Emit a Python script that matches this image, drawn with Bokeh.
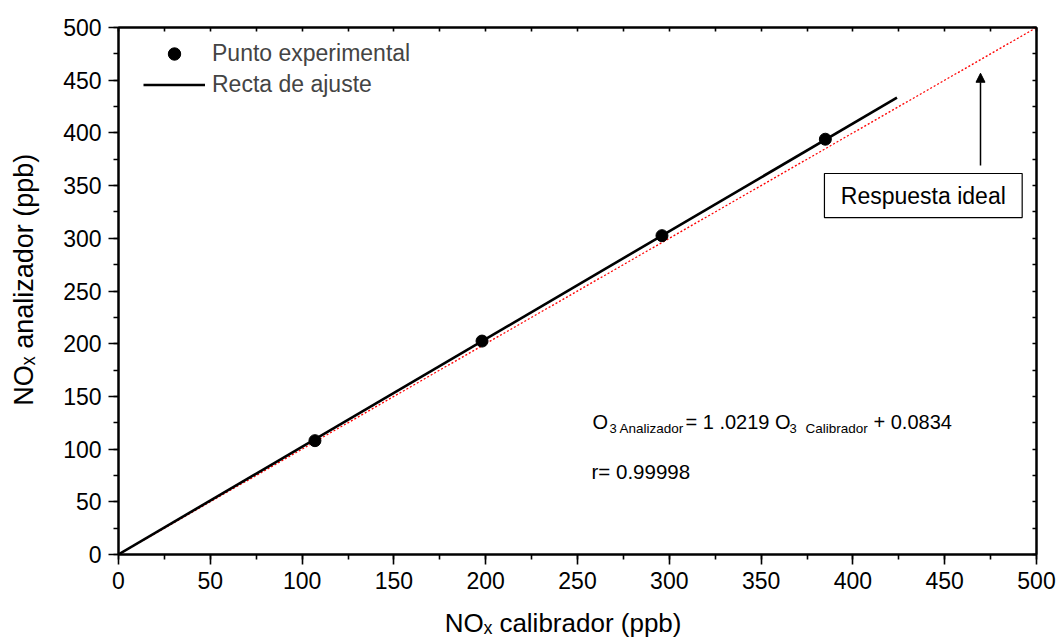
from bokeh.plotting import figure
from bokeh.models import (Range1d, LinearAxis, SingleIntervalTicker, FixedTicker, Label, Legend,
                          LegendItem, Arrow, NormalHead, BoxAnnotation)
from bokeh.embed import file_html
from bokeh.resources import INLINE

# ---- data ----
calib_ppb = [107, 198, 296, 385]          # NOx calibrador (ppb)
analyzer_ppb = [108, 202.5, 302.5, 394]   # NOx analizador (ppb)
fit_x = [0, 424]                          # recta de ajuste
fit_y = [0.1, 433.4]
ideal_x = [0, 500]                        # respuesta ideal
ideal_y = [0, 500]
frame_ticks = [0, 25, 50, 75, 100, 125, 150, 175, 200, 225, 250, 275, 300, 325, 350,
               375, 400, 425, 450, 475, 500]
arrow_x = 469.5
arrow_y = [369, 456.6]
box_lr = [384.5, 492.2]
box_bt = [319.7, 361.5]

FONT = "Liberation Sans"
NB = "\u00a0"

p = figure(width=1056, height=641, output_backend="svg", toolbar_location=None,
           x_range=Range1d(0, 500), y_range=Range1d(0, 500),
           x_axis_location=None, y_axis_location=None,
           min_border_left=118, min_border_right=20, min_border_top=27, min_border_bottom=87)
p.background_fill_color = "white"
p.border_fill_color = "white"
p.xgrid.visible = False
p.ygrid.visible = False
p.outline_line_color = "black"
p.outline_line_width = 2


def main_axis(title, size, standoff):
    ax = LinearAxis(ticker=SingleIntervalTicker(interval=50, num_minor_ticks=2))
    ax.axis_line_width = 2
    ax.major_tick_line_width = 1.6
    ax.minor_tick_line_width = 1.6
    ax.major_tick_out = 10
    ax.major_tick_in = 0
    ax.minor_tick_out = 5
    ax.minor_tick_in = 0
    ax.major_label_text_font = FONT
    ax.major_label_text_font_size = "23px"
    ax.major_label_text_color = "black"
    ax.major_label_standoff = 7
    ax.axis_label = title
    ax.axis_label_text_font = FONT
    ax.axis_label_text_font_size = size
    ax.axis_label_text_font_style = "normal"
    ax.axis_label_text_color = "black"
    ax.axis_label_standoff = standoff
    return ax


def frame_axis():
    ax = LinearAxis(ticker=FixedTicker(ticks=[], minor_ticks=frame_ticks))
    ax.axis_line_width = 2
    ax.minor_tick_line_width = 1.6
    ax.major_tick_out = 0
    ax.major_tick_in = 0
    ax.minor_tick_out = 0
    ax.minor_tick_in = 4
    ax.major_label_standoff = 0
    return ax


p.add_layout(main_axis("NOₓ calibrador (ppb)" + NB * 4, "26px", 16), "below")
p.add_layout(main_axis(NB * 3 + "NOₓ analizador (ppb)", "27px", 21), "left")
p.add_layout(frame_axis(), "above")
p.add_layout(frame_axis(), "right")

# ideal response (red dotted)
p.line(ideal_x, ideal_y, line_color="red", line_width=1.3, line_dash="2 2")
# fitted line
fit_r = p.line(fit_x, fit_y, line_color="black", line_width=2.6)
# experimental points
pts_r = p.scatter(calib_ppb, analyzer_ppb, size=12, marker="circle",
                  fill_color="black", line_color="black")

legend = Legend(items=[LegendItem(label="Punto experimental", renderers=[pts_r]),
                       LegendItem(label="Recta de ajuste", renderers=[fit_r])],
                location=(25, 454), padding=0, spacing=0, margin=0,
                glyph_width=62, glyph_height=31, label_height=31, label_standoff=7,
                label_text_font=FONT, label_text_font_size="23px",
                border_line_color=None, background_fill_alpha=0)
p.add_layout(legend, "center")

# "Respuesta ideal" box + arrow
p.add_layout(BoxAnnotation(left=box_lr[0], right=box_lr[1], bottom=box_bt[0], top=box_bt[1],
                           fill_color="white", fill_alpha=1, line_color="black",
                           line_alpha=1, line_width=1.2))
p.add_layout(Label(x=(box_lr[0] + box_lr[1]) / 2, y=(box_bt[0] + box_bt[1]) / 2,
                   text="Respuesta ideal", text_align="center", text_baseline="middle",
                   text_font=FONT, text_font_size="23px", text_color="black"))
p.add_layout(Arrow(end=NormalHead(size=9, fill_color="black", line_color="black"),
                   x_start=arrow_x, y_start=arrow_y[0], x_end=arrow_x, y_end=arrow_y[1],
                   line_width=1.5, line_color="black"))


def slabel(x, y, text, size):
    p.add_layout(Label(x=x, y=y, x_units="screen", y_units="screen", text=text,
                       text_font=FONT, text_font_size=size, text_color="black",
                       text_align="left", text_baseline="alphabetic"))


# equation and correlation
slabel(474, 133, "O", "20px")
slabel(491, 126, "3", "13px")
slabel(501, 126, "Analizador", "13.5px")
slabel(567, 133, "= 1 .0219 O", "20px")
slabel(671, 126, "3", "13px")
slabel(687, 126, "Calibrador", "13.5px")
slabel(755, 133, "+ 0.0834", "20px")
slabel(473, 83, "r= 0.99998", "20.5px")

open("out.html", "w").write(file_html(p, INLINE))
